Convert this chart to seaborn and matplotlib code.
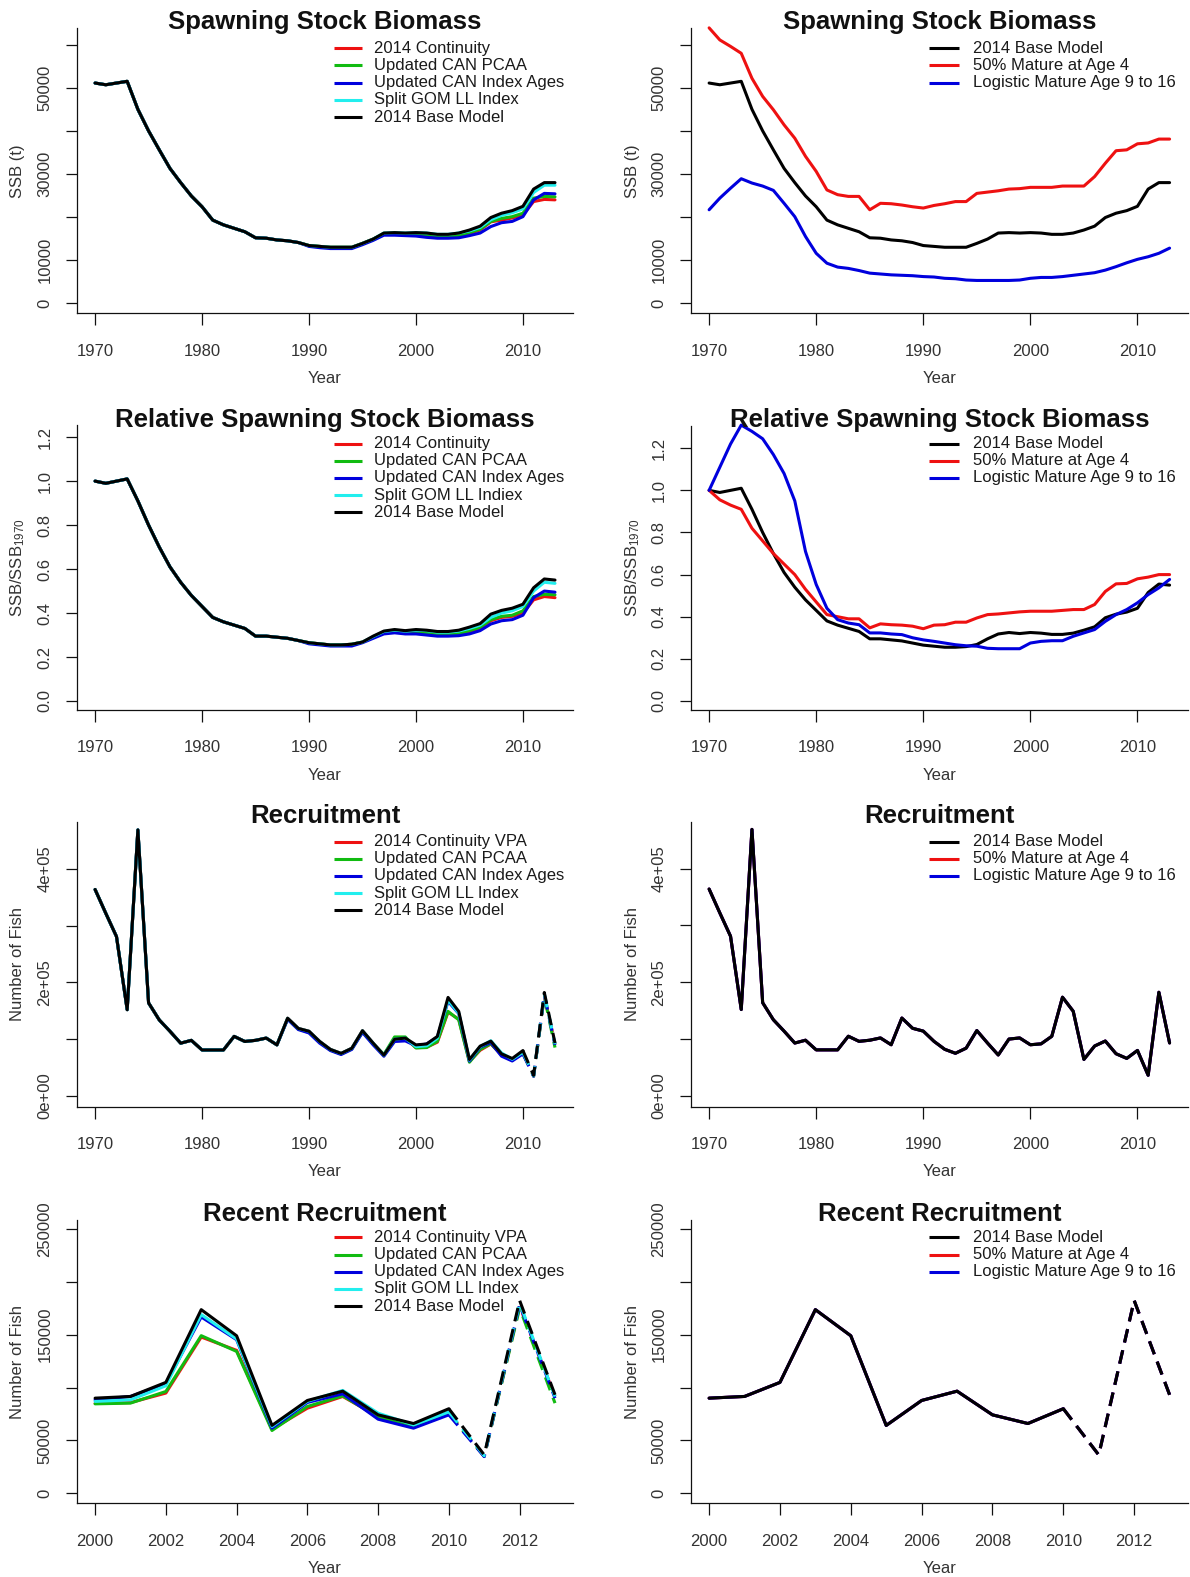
import matplotlib
matplotlib.use("Agg")
import matplotlib.pyplot as plt
import pandas as pd
import seaborn as sns

# ---------------- data ----------------
years = list(range(1970, 2014))

ssb_base = [51100, 50700, 51100, 51500, 45000, 40000, 35600, 31300, 28000, 24900,
            22400, 19300, 18200, 17400, 16600, 15200, 15100, 14700, 14500, 14100,
            13400, 13200, 13000, 13000, 13000, 13900, 14900, 16300, 16400, 16300,
            16400, 16300, 16000, 16000, 16300, 17000, 17900, 19900, 20900, 21500,
            22500, 26500, 28000, 28000]
ssb_cont = [51100, 50700, 51100, 51500, 45000, 40000, 35600, 31300, 28000, 24900,
            22400, 19300, 18200, 17400, 16600, 15200, 15100, 14700, 14500, 14100,
            13400, 13200, 13000, 13000, 13000, 13900, 14900, 16100, 16100, 16000,
            16000, 15800, 15600, 15500, 15600, 16200, 17000, 18900, 19300, 19800,
            20500, 23600, 24100, 24000]
ssb_pcaa = [51100, 50700, 51100, 51500, 45000, 40000, 35600, 31300, 28000, 24900,
            22400, 19300, 18200, 17400, 16600, 15200, 15100, 14700, 14500, 14100,
            13400, 13200, 13000, 13000, 13000, 13900, 14900, 16200, 16200, 16100,
            16100, 15900, 15700, 15600, 15700, 16400, 17200, 19000, 19700, 20100,
            20900, 24400, 24800, 24700]
ssb_idxages = [51100, 50700, 51100, 51500, 45000, 40000, 35600, 31300, 28000, 24900,
               22400, 19300, 18200, 17400, 16600, 15200, 15100, 14700, 14500, 14100,
               13200, 12900, 12700, 12700, 12700, 13600, 14600, 15800, 15800, 15700,
               15600, 15300, 15100, 15100, 15200, 15700, 16300, 17800, 18700, 19000,
               20100, 24000, 25500, 25400]
ssb_splitgom = [51100, 50700, 51100, 51500, 45000, 40000, 35600, 31300, 28000, 24900,
                22400, 19300, 18200, 17400, 16600, 15200, 15100, 14700, 14500, 14100,
                13400, 13200, 13000, 13000, 13000, 13900, 14900, 16300, 16400, 16300,
                16400, 16300, 16000, 16000, 16300, 16800, 17600, 19400, 20400, 21000,
                21900, 25700, 27400, 27400]
ssb_mat50 = [63900, 61100, 59600, 58000, 52200, 48000, 44900, 41400, 38300, 34100,
             30600, 26300, 25200, 24800, 24800, 21700, 23200, 23100, 22800, 22400,
             22100, 22700, 23100, 23600, 23600, 25500, 25800, 26100, 26500, 26600,
             26900, 26900, 26900, 27200, 27200, 27200, 29400, 32500, 35400, 35600,
             37000, 37200, 38100, 38100]
ssb_logis = [21700, 24400, 26700, 28900, 27900, 27200, 26200, 23200, 20100, 15500,
             11600, 9300, 8400, 8100, 7600, 7000, 6800, 6600, 6500, 6400,
             6200, 6100, 5800, 5700, 5400, 5300, 5300, 5300, 5300, 5400,
             5800, 6000, 6000, 6200, 6500, 6800, 7100, 7700, 8500, 9400,
             10200, 10800, 11600, 12800]

rel_base = [1.00, 0.99, 1.00, 1.01, 0.91, 0.80, 0.70, 0.61, 0.54, 0.48,
            0.43, 0.38, 0.36, 0.345, 0.33, 0.295, 0.295, 0.29, 0.285, 0.275,
            0.265, 0.26, 0.255, 0.255, 0.258, 0.268, 0.295, 0.318, 0.325, 0.32,
            0.325, 0.322, 0.316, 0.316, 0.322, 0.336, 0.352, 0.395, 0.412, 0.422,
            0.44, 0.515, 0.555, 0.55]
rel_cont = [1.00, 0.99, 1.00, 1.01, 0.91, 0.80, 0.70, 0.61, 0.54, 0.48,
            0.43, 0.38, 0.36, 0.345, 0.33, 0.295, 0.295, 0.29, 0.285, 0.275,
            0.265, 0.26, 0.255, 0.255, 0.258, 0.268, 0.29, 0.31, 0.315, 0.31,
            0.31, 0.31, 0.305, 0.303, 0.305, 0.315, 0.33, 0.365, 0.38, 0.385,
            0.40, 0.46, 0.475, 0.47]
rel_pcaa = [1.00, 0.99, 1.00, 1.01, 0.91, 0.80, 0.70, 0.61, 0.54, 0.48,
            0.43, 0.38, 0.36, 0.345, 0.33, 0.295, 0.295, 0.29, 0.285, 0.275,
            0.265, 0.26, 0.255, 0.255, 0.258, 0.268, 0.29, 0.312, 0.317, 0.312,
            0.312, 0.31, 0.307, 0.305, 0.307, 0.32, 0.335, 0.37, 0.385, 0.39,
            0.41, 0.475, 0.485, 0.483]
rel_idxages = [1.00, 0.99, 1.00, 1.01, 0.91, 0.80, 0.70, 0.61, 0.54, 0.48,
               0.43, 0.38, 0.36, 0.345, 0.33, 0.295, 0.295, 0.29, 0.285, 0.275,
               0.26, 0.255, 0.25, 0.25, 0.25, 0.265, 0.285, 0.305, 0.31, 0.305,
               0.305, 0.30, 0.295, 0.295, 0.297, 0.305, 0.32, 0.35, 0.365, 0.37,
               0.39, 0.47, 0.50, 0.495]
rel_splitgom = [1.00, 0.99, 1.00, 1.01, 0.91, 0.80, 0.70, 0.61, 0.54, 0.48,
                0.43, 0.38, 0.36, 0.345, 0.33, 0.295, 0.295, 0.29, 0.285, 0.275,
                0.265, 0.26, 0.255, 0.255, 0.258, 0.268, 0.293, 0.316, 0.322, 0.318,
                0.322, 0.32, 0.313, 0.313, 0.318, 0.33, 0.345, 0.38, 0.40, 0.41,
                0.43, 0.50, 0.54, 0.535]
rel_mat50 = [1.00, 0.955, 0.93, 0.91, 0.82, 0.76, 0.70, 0.65, 0.60, 0.53,
             0.47, 0.41, 0.40, 0.39, 0.39, 0.347, 0.366, 0.362, 0.36, 0.355,
             0.343, 0.36, 0.362, 0.374, 0.374, 0.394, 0.41, 0.413, 0.418, 0.423,
             0.426, 0.426, 0.426, 0.43, 0.434, 0.434, 0.458, 0.52, 0.556, 0.558,
             0.58, 0.588, 0.60, 0.60]
rel_logis = [1.00, 1.11, 1.22, 1.31, 1.28, 1.245, 1.17, 1.08, 0.95, 0.71,
             0.553, 0.44, 0.386, 0.37, 0.362, 0.323, 0.323, 0.318, 0.315, 0.30,
             0.29, 0.283, 0.275, 0.267, 0.262, 0.26, 0.25, 0.248, 0.248, 0.248,
             0.275, 0.283, 0.286, 0.286, 0.307, 0.323, 0.339, 0.378, 0.41, 0.434,
             0.466, 0.505, 0.537, 0.577]

rec_base = [364000, 322000, 281000, 152000, 469000, 164000, 134000, 114000, 93000, 98000,
            81000, 81000, 81000, 105000, 96000, 98000, 102000, 90000, 137000, 119000,
            114000, 96000, 82000, 75000, 84000, 115000, 93000, 72000, 100000, 102000,
            90000, 91600, 104900, 173700, 149000, 64200, 87800, 96600, 74200, 66000,
            80000, 36300, 182400, 93200]
rec_cont = [364000, 322000, 281000, 152000, 469000, 164000, 134000, 114000, 93000, 98000,
            81000, 81000, 81000, 105000, 96000, 98000, 102000, 90000, 137000, 119000,
            114000, 96000, 82000, 75000, 84000, 115000, 93000, 72000, 100000, 102000,
            85000, 85800, 94800, 147800, 135200, 60600, 80500, 91600, 72500, 63500,
            75500, 35000, 176900, 91600]
rec_pcaa = [364000, 322000, 281000, 152000, 469000, 164000, 134000, 114000, 93000, 98000,
            81000, 81000, 81000, 105000, 96000, 98000, 102000, 90000, 136000, 118000,
            112000, 95000, 81000, 74000, 83000, 113000, 92000, 73000, 104000, 104000,
            84600, 85300, 96300, 149100, 134200, 59400, 82100, 92200, 72000, 63200,
            75500, 35000, 175300, 85300]
rec_idxages = [364000, 322000, 281000, 152000, 469000, 164000, 134000, 114000, 93000, 98000,
               81000, 81000, 81000, 105000, 96000, 98000, 102000, 90000, 135000, 117000,
               111000, 93000, 80000, 73000, 82000, 112000, 90000, 70000, 96000, 97000,
               88400, 91600, 103600, 166800, 145300, 61600, 85900, 94100, 70100, 61600,
               74200, 34700, 178500, 90000]
rec_splitgom = [364000, 322000, 281000, 152000, 469000, 164000, 134000, 114000, 93000, 98000,
                81000, 81000, 81000, 105000, 96000, 98000, 102000, 90000, 137000, 119000,
                114000, 96000, 82000, 75000, 84000, 115000, 93000, 72000, 100000, 102000,
                86900, 88400, 101700, 169000, 145900, 63200, 87000, 97300, 75800, 64700,
                77000, 35500, 180000, 91500]

labels_left_a = ["2014 Continuity", "Updated CAN PCAA", "Updated CAN Index Ages",
                 "Split GOM LL Index", "2014 Base Model"]
labels_left_b = ["2014 Continuity", "Updated CAN PCAA", "Updated CAN Index Ages",
                 "Split GOM LL Indiex", "2014 Base Model"]
labels_left_c = ["2014 Continuity VPA", "Updated CAN PCAA", "Updated CAN Index Ages",
                 "Split GOM LL Index", "2014 Base Model"]
labels_right = ["2014 Base Model", "50% Mature at Age 4", "Logistic Mature Age 9 to 16"]

titles = ["Spawning Stock Biomass", "Relative Spawning Stock Biomass",
          "Recruitment", "Recent Recruitment"]
ylabels = ["SSB (t)", r"SSB/SSB$_{\mathregular{1970}}$", "Number of Fish", "Number of Fish"]

x_ticks_long = [1970, 1980, 1990, 2000, 2010]
x_ticks_recent = [2000, 2002, 2004, 2006, 2008, 2010, 2012]
y_ticks = [
    ([0, 10000, 20000, 30000, 40000, 50000, 60000],
     ["0", "10000", "", "30000", "", "50000", ""]),
    ([0, 0.2, 0.4, 0.6, 0.8, 1.0, 1.2],
     ["0.0", "0.2", "0.4", "0.6", "0.8", "1.0", "1.2"]),
    ([0, 100000, 200000, 300000, 400000],
     ["0e+00", "", "2e+05", "", "4e+05"]),
    ([0, 50000, 100000, 150000, 200000, 250000],
     ["0", "50000", "", "150000", "", "250000"]),
]

# ---------------- style ----------------
sns.set_style("ticks")
plt.rcParams["font.family"] = ["Liberation Sans", "DejaVu Sans"]
plt.rcParams["mathtext.default"] = "regular"

RED, GREEN, BLUE, CYAN, BLACK = "#EE1111", "#11BB11", "#0000DD", "#22EEEE", "#000000"
LEFT_COLS = [RED, GREEN, BLUE, CYAN, BLACK]
RIGHT_COLS = [BLACK, RED, BLUE]
LW = 2.2
TXT = "#1a1a1a"
TICKTXT = "#333333"

W, H = 1190, 1577
fig = plt.figure(figsize=(W / 100, H / 100), dpi=100)

col_x = [(76.7, 573.4), (690.7, 1188.0)]
row_y = [(28.3, 313.3), (425.5, 710.0), (822.0, 1106.7), (1220.0, 1503.3)]
ylims = [[(-2320, 63800), (-2320, 63800)],
         [(-0.041, 1.253), (-0.043, 1.308)],
         [(-19000, 483000), (-19000, 482000)],
         [(-9460, 258500), (-9460, 258500)]]
leg_off = [20.0, 18.0, 19.5, 17.3]


def add_ax(c, r):
    x0, x1 = col_x[c]
    t, b = row_y[r]
    return fig.add_axes([x0 / W, 1 - b / H, (x1 - x0) / W, (b - t) / H]), (x1 - x0), (b - t)


def draw(ax, x, y, color, dashed_from=None):
    df = pd.DataFrame({"Year": x, "v": y})
    if dashed_from is None:
        sns.lineplot(data=df, x="Year", y="v", ax=ax, color=color, lw=LW,
                     estimator=None, errorbar=None, solid_capstyle="round",
                     solid_joinstyle="round", clip_on=False)
    else:
        a = df[df["Year"] <= dashed_from]
        b = df[df["Year"] >= dashed_from]
        sns.lineplot(data=a, x="Year", y="v", ax=ax, color=color, lw=LW,
                     estimator=None, errorbar=None, solid_capstyle="round",
                     solid_joinstyle="round", clip_on=False)
        sns.lineplot(data=b, x="Year", y="v", ax=ax, color=color, lw=LW,
                     estimator=None, errorbar=None, linestyle=(0, (4.5, 2.6)),
                     dash_capstyle="butt", clip_on=False)


def finish(ax, wpx, hpx, r, c, xticks, xlim, labels, cols):
    ax.set_xlim(*xlim)
    ax.set_ylim(*ylims[r][c])
    ax.set_xticks(xticks)
    ax.set_xticklabels([str(v) for v in xticks])
    yt, yl = y_ticks[r]
    ax.set_yticks(yt)
    ax.set_yticklabels(yl, rotation=90, va="center")
    sns.despine(ax=ax)
    for s in ("left", "bottom"):
        ax.spines[s].set_linewidth(0.9)
        ax.spines[s].set_color("#111111")
    ax.tick_params(axis="x", length=8.9, width=0.9, pad=13, labelsize=12.0,
                   labelcolor=TICKTXT, color="#111111")
    ax.tick_params(axis="y", length=7.9, width=0.9, pad=9.5, labelsize=12.0,
                   labelcolor=TICKTXT, color="#111111")
    ax.set_xlabel("Year", fontsize=12, color=TICKTXT)
    ax.xaxis.set_label_coords(0.5, -65 / hpx)
    ax.xaxis.label.set_va("center")
    ax.set_ylabel(ylabels[r], fontsize=12, color=TICKTXT)
    ax.yaxis.set_label_coords(-(59 if c == 0 else 58) / wpx, 0.5)
    ax.yaxis.label.set_va("center")
    ax.text(0.5, 1 - 1.0 / hpx, titles[r], transform=ax.transAxes, ha="center",
            va="baseline", fontsize=18.5, fontweight="bold", color="#111111")
    # legend (R-style, no box)
    if c == 0:
        lx0, lx1, tx = 257.3, 285.7, 297.3
    else:
        lx0, lx1, tx = 238.3, 268.3, 281.9
    for i, (lab, col) in enumerate(zip(labels, cols)):
        yy = 1 - (leg_off[r] + i * 17.2) / hpx
        ax.plot([lx0 / wpx, lx1 / wpx], [yy, yy], transform=ax.transAxes,
                color=col, lw=LW, clip_on=False, solid_capstyle="butt")
        ax.text(tx / wpx, yy, lab, transform=ax.transAxes, ha="left",
                va="center", fontsize=12.0, color=TXT)


long_xlim = (1968.28, 2014.72)
recent_xlim = (1999.48, 2013.52)
recent_years = years[30:]

# Row 1 -- SSB
ax, w, h = add_ax(0, 0)
for ser, col in zip([ssb_cont, ssb_pcaa, ssb_idxages, ssb_splitgom, ssb_base], LEFT_COLS):
    draw(ax, years, ser, col)
finish(ax, w, h, 0, 0, x_ticks_long, long_xlim, labels_left_a, LEFT_COLS)

ax, w, h = add_ax(1, 0)
for ser, col in zip([ssb_base, ssb_mat50, ssb_logis], RIGHT_COLS):
    draw(ax, years, ser, col)
finish(ax, w, h, 0, 1, x_ticks_long, long_xlim, labels_right, RIGHT_COLS)

# Row 2 -- relative SSB
ax, w, h = add_ax(0, 1)
for ser, col in zip([rel_cont, rel_pcaa, rel_idxages, rel_splitgom, rel_base], LEFT_COLS):
    draw(ax, years, ser, col)
finish(ax, w, h, 1, 0, x_ticks_long, long_xlim, labels_left_b, LEFT_COLS)

ax, w, h = add_ax(1, 1)
for ser, col in zip([rel_base, rel_mat50, rel_logis], RIGHT_COLS):
    draw(ax, years, ser, col)
finish(ax, w, h, 1, 1, x_ticks_long, long_xlim, labels_right, RIGHT_COLS)

# Row 3 -- recruitment
ax, w, h = add_ax(0, 2)
for ser, col in zip([rec_cont, rec_pcaa, rec_idxages, rec_splitgom, rec_base], LEFT_COLS):
    draw(ax, years, ser, col, dashed_from=2010)
finish(ax, w, h, 2, 0, x_ticks_long, long_xlim, labels_left_c, LEFT_COLS)

ax, w, h = add_ax(1, 2)
for col in [RED, BLUE, BLACK]:
    draw(ax, years, rec_base, col)
finish(ax, w, h, 2, 1, x_ticks_long, long_xlim, labels_right, RIGHT_COLS)

# Row 4 -- recent recruitment
ax, w, h = add_ax(0, 3)
for ser, col in zip([rec_cont, rec_pcaa, rec_idxages, rec_splitgom, rec_base], LEFT_COLS):
    draw(ax, recent_years, ser[30:], col, dashed_from=2010)
finish(ax, w, h, 3, 0, x_ticks_recent, recent_xlim, labels_left_c, LEFT_COLS)

ax, w, h = add_ax(1, 3)
for col in [RED, BLUE, BLACK]:
    draw(ax, recent_years, rec_base[30:], col, dashed_from=2010)
finish(ax, w, h, 3, 1, x_ticks_recent, recent_xlim, labels_right, RIGHT_COLS)

fig.savefig("out.png", dpi=100, facecolor="white")
